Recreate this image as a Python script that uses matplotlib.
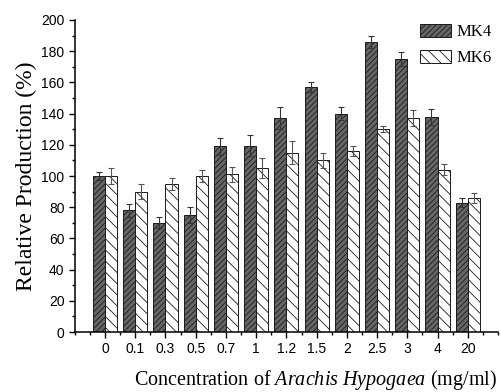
import numpy as np
import matplotlib as mpl

mpl.use("Agg")
import matplotlib.pyplot as plt
from matplotlib.ticker import MultipleLocator

conc_labels = ["0", "0.1", "0.3", "0.5", "0.7", "1", "1.2", "1.5", "2", "2.5", "3", "4", "20"]
mk4 = [100, 78, 70, 75, 119, 119.5, 137, 157, 140, 186, 175, 138, 83]
mk4_err = [2.5, 4, 3.5, 5, 5.5, 6.5, 7, 3, 4, 4, 4.5, 5, 3]
mk6 = [100, 90, 95, 100, 101, 105, 115, 110, 116, 130, 137, 104, 86]
mk6_err = [5, 5, 4, 4, 5, 6.5, 7.5, 5, 3, 2, 5, 3.5, 3]

mpl.rcParams.update(
    {
        "hatch.linewidth": 0.6,
        "mathtext.fontset": "custom",
        "mathtext.rm": "Liberation Serif",
        "mathtext.it": "Liberation Serif:italic",
    }
)

fig = plt.figure(figsize=(5.02, 3.92), dpi=100, facecolor="white")
ax = fig.add_axes([0.149, 0.153, 0.843, 0.796])

x = np.arange(len(conc_labels))
w = 0.4
ax.bar(x - w / 2, mk4, w, color="#666666", edgecolor="#1a1a1a", hatch="//////",
       linewidth=0.7, label="MK4")
ax.bar(x + w / 2, mk6, w, color="white", edgecolor="#1a1a1a", hatch="\\\\\\",
       linewidth=0.7, label="MK6")
ax.errorbar(x - w / 2, mk4, yerr=mk4_err, fmt="none", ecolor="#333333",
            elinewidth=0.8, capsize=2.5, capthick=0.8)
ax.errorbar(x + w / 2, mk6, yerr=mk6_err, fmt="none", ecolor="#555555",
            elinewidth=0.8, capsize=2.5, capthick=0.8)

ax.set_xlim(-1, 13)
ax.set_ylim(0, 200)
ax.set_xticks(x)
ax.set_xticklabels(conc_labels, family="Liberation Sans", fontsize=10)
ax.xaxis.set_minor_locator(MultipleLocator(0.5))
ax.yaxis.set_major_locator(MultipleLocator(20))
ax.yaxis.set_minor_locator(MultipleLocator(10))
for lab in ax.get_yticklabels():
    lab.set_family("Liberation Sans")
    lab.set_fontsize(10)
ax.tick_params(which="major", direction="out", length=4, width=1)
ax.tick_params(which="minor", direction="out", length=2.5, width=1)

for spine in ("top", "right"):
    ax.spines[spine].set_visible(False)
ax.spines["left"].set_linewidth(1.1)
ax.spines["bottom"].set_linewidth(1.1)

ax.set_ylabel("Relative Production (%)", family="Liberation Serif", fontsize=17, labelpad=3)
ax.set_xlabel("Concentration of $\\it{Arachis\\ Hypogaea}$ (mg/ml)",
              family="Liberation Serif", fontsize=14.5, labelpad=4)
ax.xaxis.set_label_coords(0.57, -0.115)

ax.legend(loc="upper right", bbox_to_anchor=(1.02, 1.035), frameon=False,
          prop={"family": "Liberation Serif", "size": 12},
          handlelength=1.9, handleheight=0.8, handletextpad=0.3, labelspacing=0.6)

fig.savefig("out.png", dpi=100, facecolor="white")
